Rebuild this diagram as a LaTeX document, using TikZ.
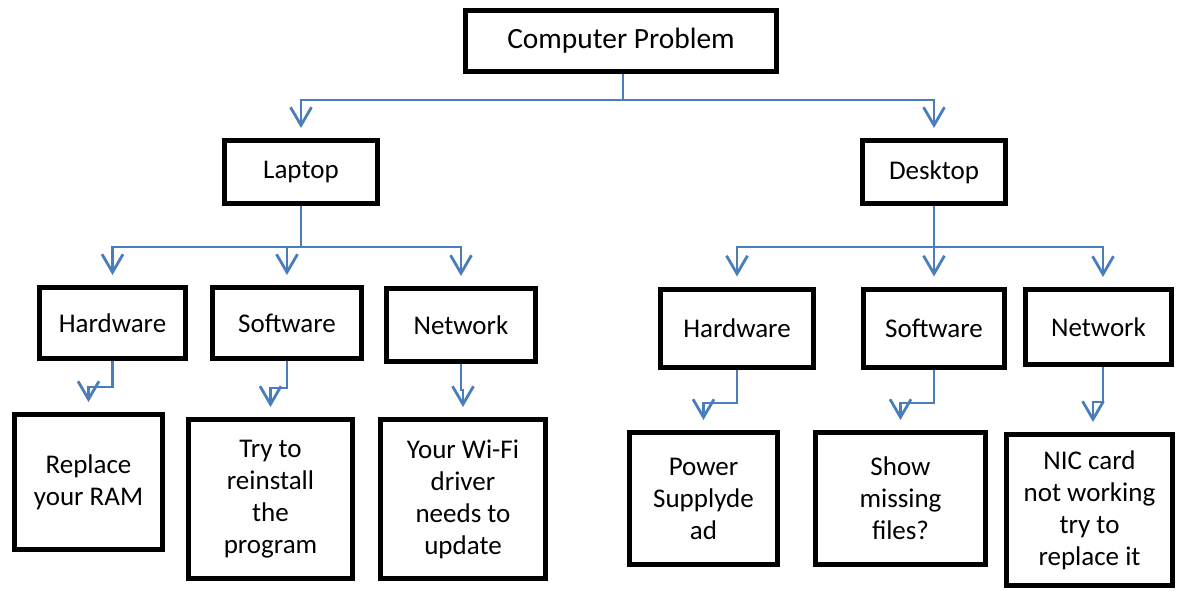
\documentclass[tikz,border=0pt]{standalone}
\usepackage{fontspec}
\setmainfont{Carlito}
\usetikzlibrary{arrows.meta}
\definecolor{conblue}{HTML}{4A7EBB}
\tikzset{
  box/.style={draw=black, line width=2.5pt, fill=white, align=center, inner sep=0pt,
    font=\fontsize{13.5pt}{16pt}\selectfont},
  arr/.style={draw=conblue, line width=1.4pt, -{Straight Barb[length=9pt,width=10.5pt]}, shorten >=5pt},
  link/.style={draw=conblue, line width=1.4pt},
}
\begin{document}
\begin{tikzpicture}[x=0.5pt,y=-0.5pt]
\useasboundingbox (0,0) rectangle (1179,590);
% level 0
\node[box, minimum width=155.5pt, minimum height=30.5pt, font=\fontsize{14.7pt}{17pt}\selectfont] (top) at (621,41) {Computer Problem};
% level 1
\node[box, minimum width=76.5pt, minimum height=31.5pt] (lap) at (301,172) {Laptop};
\node[box, minimum width=71.5pt, minimum height=31.5pt] (desk) at (934,172) {Desktop};
% level 2 laptop
\node[box, minimum width=73pt, minimum height=35.5pt] (lhw) at (112.5,323) {Hardware};
\node[box, minimum width=74.5pt, minimum height=35.5pt] (lsw) at (287,323) {Software};
\node[box, minimum width=74.5pt, minimum height=36.5pt] (lnw) at (461,325) {Network};
% level 2 desktop
\node[box, minimum width=76.5pt, minimum height=39pt] (dhw) at (737,328) {Hardware};
\node[box, minimum width=70.5pt, minimum height=39pt] (dsw) at (934,328) {Software};
\node[box, minimum width=73pt, minimum height=37.5pt] (dnw) at (1098.5,327) {Network};
% level 3 laptop
\node[box, minimum width=74pt, minimum height=67.5pt] (rep) at (88.5,482) {Replace\\your RAM};
\node[box, minimum width=82pt, minimum height=79.5pt] (try) at (270.5,499) {Try to\\reinstall\\the\\program};
\node[box, minimum width=82.5pt, minimum height=79.5pt] (wifi) at (463,499) {Your Wi-Fi\\driver\\needs to\\update};
% level 3 desktop
\node[box, minimum width=74pt, minimum height=66pt] (pow) at (703.5,498.5) {Power\\Supplyde\\ad};
\node[box, minimum width=85pt, minimum height=66pt] (show) at (900.5,498.5) {Show\\missing\\files?};
\node[box, minimum width=83pt, minimum height=75.5pt] (nic) at (1089.5,510) {NIC card\\not working\\try to\\replace it};
% connectors level 0 -> 1
\coordinate (j0) at (623,100);
\draw[link] (top.south -| j0) -- (j0);
\draw[arr] (j0) -| (lap.north);
\draw[arr] (j0) -| (desk.north);
% laptop -> level 2
\coordinate (j1) at (301,247);
\draw[link] (lap.south) -- (j1);
\draw[arr] (j1) -| (lhw.north);
\draw[arr] (j1 -| lsw.north) -- (lsw.north);
\draw[arr] (j1) -| (lnw.north);
% desktop -> level 2
\coordinate (j2) at (934,247);
\draw[arr] (desk.south) -- (dsw.north);
\draw[arr] (j2) -| (dhw.north);
\draw[arr] (j2) -| ([xshift=2.25pt]dnw.north);
% laptop level 2 -> level 3
\draw[arr] (lhw.south) -- (lhw.south |- 0,387) -| (rep.north);
\draw[arr] (lsw.south) -- (lsw.south |- 0,388) -| (try.north);
\draw[arr] (lnw.south) -- (lnw.south |- 0,390) -| (wifi.north);
% desktop level 2 -> level 3
\draw[arr] (dhw.south) -- (dhw.south |- 0,403) -| (pow.north);
\draw[arr] (dsw.south) -- (dsw.south |- 0,403) -| (show.north);
\draw[arr] ([xshift=2.25pt]dnw.south) -- ([xshift=2.25pt]dnw.south |- 0,402) -| ([xshift=1.75pt]nic.north);
\end{tikzpicture}
\end{document}
